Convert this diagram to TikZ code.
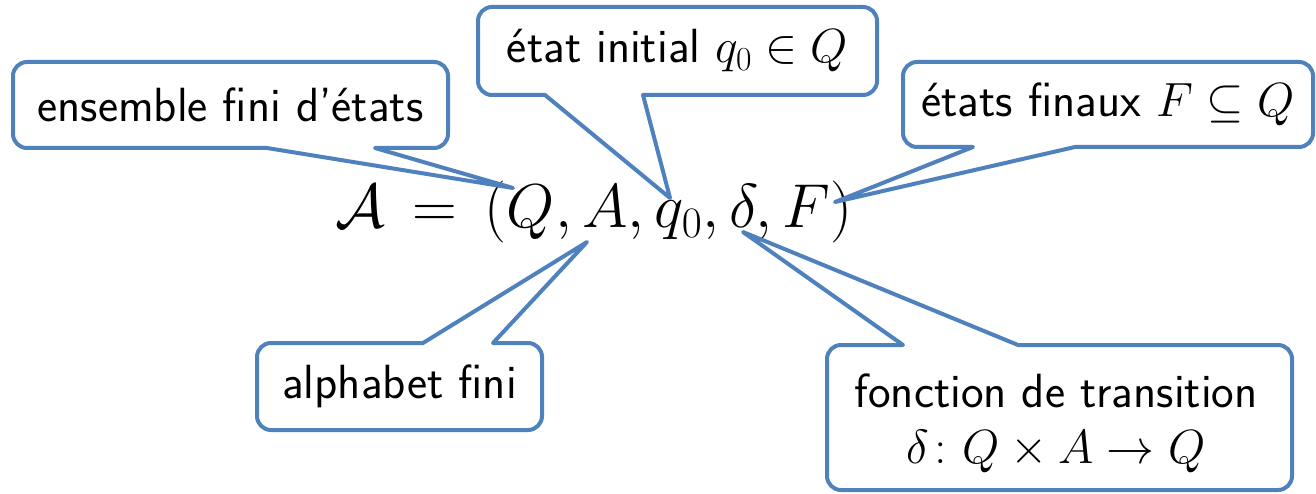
\RequirePackage{fix-cm}
\documentclass[tikz,border=0pt]{standalone}
\usepackage{amsmath,amssymb}
\usepackage{fontspec}
\usetikzlibrary{calc}
\definecolor{cblue}{HTML}{4F81BD}
\newcommand\crad{14pt}
% callout with pointer on the bottom edge: node, base x left, base x right, tip
\newcommand\calloutdown[4]{%
  \draw[callout] let \p1=(#1.north west), \p2=(#1.south east) in
    (\x1+\crad,\y1) -- (\x2-\crad,\y1)
    arc[start angle=90,end angle=0,radius=\crad] -- (\x2,\y2+\crad)
    arc[start angle=0,end angle=-90,radius=\crad] -- (#3,\y2) -- (#4) -- (#2,\y2)
    -- (\x1+\crad,\y2)
    arc[start angle=270,end angle=180,radius=\crad] -- (\x1,\y1-\crad)
    arc[start angle=180,end angle=90,radius=\crad] -- cycle;}
% callout with pointer on the top edge
\newcommand\calloutup[4]{%
  \draw[callout] let \p1=(#1.north west), \p2=(#1.south east) in
    (\x1+\crad,\y1) -- (#2,\y1) -- (#4) -- (#3,\y1) -- (\x2-\crad,\y1)
    arc[start angle=90,end angle=0,radius=\crad] -- (\x2,\y2+\crad)
    arc[start angle=0,end angle=-90,radius=\crad] -- (\x1+\crad,\y2)
    arc[start angle=270,end angle=180,radius=\crad] -- (\x1,\y1-\crad)
    arc[start angle=180,end angle=90,radius=\crad] -- cycle;}
\begin{document}
\begin{tikzpicture}[x=1pt,y=1pt,
  callout/.style={draw=cblue,line width=4pt,line join=round},
  box/.style={inner sep=0pt,outer sep=0pt,align=center,
    font=\sffamily\fontsize{48}{58}\selectfont},
  formula/.style={inner sep=0pt,font=\fontsize{62}{74}\selectfont}]
\useasboundingbox (0,0) rectangle (1316,493);
% formula
\node[formula,anchor=base] (f) at (594,265) {$\mathcal{A} \,=\, (Q, A, q_0, \delta, F)$};
% pointer tips
\coordinate (t1) at (513,305);
\coordinate (t2) at (670,295);
\coordinate (t3) at (835,291);
\coordinate (t4) at (587,251);
\coordinate (t5) at (743,261);
% boxes
\node[box,minimum width=435pt,minimum height=86pt] (b1) at (230.5,388) {ensemble fini d'états};
\node[box,minimum width=399pt,minimum height=88pt] (b2) at (677.5,442) {état initial $q_0 \in Q$};
\node[box,minimum width=410pt,minimum height=85pt] (b3) at (1108,388.5) {états finaux $F \subseteq Q$};
\node[box,minimum width=285pt,minimum height=87pt] (b4) at (399.5,106.5) {alphabet fini};
\node[box,minimum width=465pt,minimum height=145pt] (b5) at (1059.5,75.5) {};
\node[box,anchor=base] (l5a) at (1056,86) {fonction de transition};
\node[box,anchor=base] (l5b) at (1056,30) {$\delta\colon Q \times A \to Q$};
% outlines
\calloutdown{b1}{267}{375}{t1}
\calloutdown{b2}{545}{643}{t2}
\calloutdown{b3}{973}{1075}{t3}
\calloutup{b4}{423}{493}{t4}
\calloutup{b5}{903}{1018}{t5}
\end{tikzpicture}
\end{document}
